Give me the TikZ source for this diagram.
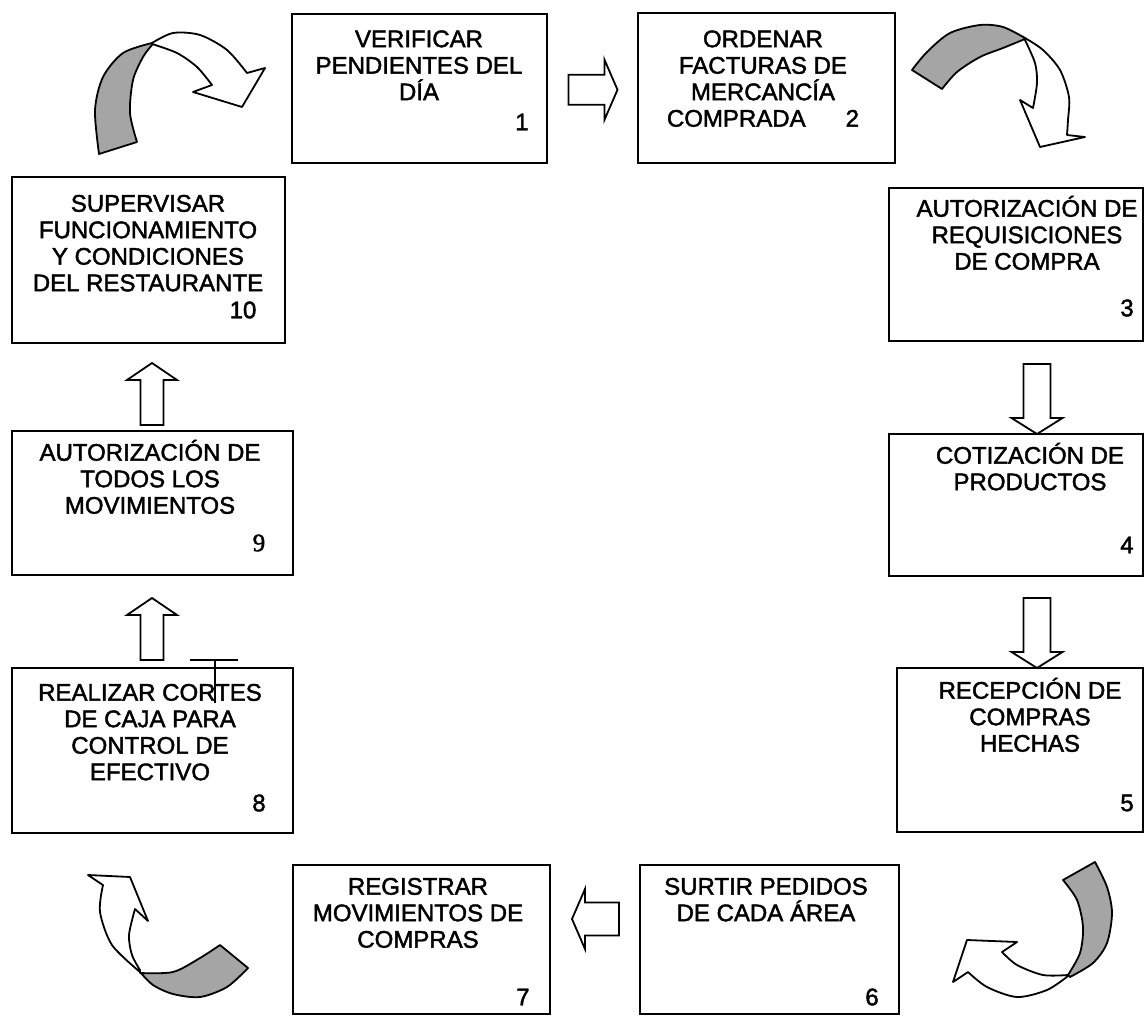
\documentclass[tikz,border=0pt]{standalone}
\usepackage{fontspec}
\setmainfont{Liberation Sans}
\newfontfamily\boxfont{Liberation Sans}[FakeBold=1.8]
\newfontfamily\serifnum{Liberation Serif}[FakeBold=1.8]
\usetikzlibrary{calc}
\definecolor{shadegray}{RGB}{165,165,165}
\newcommand{\sr}{\rule{0pt}{24pt}}
\tikzset{
  box/.style={draw, line width=1.6pt, inner sep=0pt, outer sep=0pt},
  txt/.style={anchor=north, inner sep=0pt, align=center, font=\boxfont\fontsize{24}{26.5}\selectfont, execute at begin node={\lineskiplimit=-100pt\relax}},
  num/.style={inner sep=0pt, font=\boxfont\fontsize{24}{26.5}\selectfont},
  blk/.style={draw, line width=1.8pt, fill=white, line join=miter},
  shd/.style={draw, line width=1.8pt, fill=shadegray, line join=round},
  bdy/.style={draw, line width=1.8pt, fill=white, line join=round},
  rarrow/.pic={\draw[blk] (-24.5,-15) -- (11.5,-15) -- (11.5,-30) -- (24.5,0) -- (11.5,30) -- (11.5,15) -- (-24.5,15) -- cycle;},
  darrow/.pic={\draw[blk] (0,0) -- (25.5,-16) -- (13.5,-16) -- (13.5,-70) -- (-13.5,-70) -- (-13.5,-16) -- (-25.5,-16) -- cycle;},
  uarrow/.pic={\draw[blk] (0,0) -- (25,17) -- (11.5,17) -- (11.5,62) -- (-11.5,62) -- (-11.5,17) -- (-25,17) -- cycle;},
  larrow/.pic={\draw[blk] (0,0) -- (13,-30) -- (13,-16.5) -- (47,-16.5) -- (47,16.5) -- (13,16.5) -- (13,30) -- cycle;}
}
\begin{document}
\begin{tikzpicture}[x=1pt,y=-1pt]
\useasboundingbox[fill=white] (0,0) rectangle (1146,1016);

% boxes
\node[box, minimum width=255pt, minimum height=149pt] (b1) at (419.5,88.5) {};
\node[box, minimum width=257pt, minimum height=150pt] (b2) at (766.5,88) {};
\node[box, minimum width=254pt, minimum height=153pt] (b3) at (1016,264.5) {};
\node[box, minimum width=254pt, minimum height=142pt] (b4) at (1016,505) {};
\node[box, minimum width=246pt, minimum height=164pt] (b5) at (1020,750) {};
\node[box, minimum width=259pt, minimum height=149pt] (b6) at (769.5,939.5) {};
\node[box, minimum width=257pt, minimum height=149pt] (b7) at (421.5,939.5) {};
\node[box, minimum width=281pt, minimum height=165pt] (b8) at (152.5,750.5) {};
\node[box, minimum width=281pt, minimum height=144pt] (b9) at (152.5,503) {};
\node[box, minimum width=273pt, minimum height=166pt] (b10) at (148.5,260) {};

% texts
\node[txt] (t1) at (419,23) {\sr VERIFICAR\\PENDIENTES DEL\\DÍA};
\node[num] (n1) at (522,122) {1};
\node[txt] (t2) at (763,23) {\sr ORDENAR\\FACTURAS DE\\MERCANCÍA\\COMPRADA\hspace{40pt}2};
\node[txt] (t3) at (1027,192.5) {\sr AUTORIZACIÓN DE\\REQUISICIONES\\DE COMPRA};
\node[num] (n3) at (1127,308) {3};
\node[txt] (t4) at (1030,439.5) {\sr COTIZACIÓN DE\\PRODUCTOS};
\node[num] (n4) at (1127,545) {4};
\node[txt] (t5) at (1030,674.5) {\sr RECEPCIÓN DE\\COMPRAS\\HECHAS};
\node[num] (n5) at (1127,803) {5};
\node[txt] (t6) at (766,870.5) {\sr SURTIR PEDIDOS\\DE CADA ÁREA};
\node[num] (n6) at (872,997) {6};
\node[txt] (t7) at (418,870.5) {\sr REGISTRAR\\MOVIMIENTOS DE\\COMPRAS};
\node[num] (n7) at (523,997) {7};
\node[txt] (t8) at (150,676.5) {\sr REALIZAR CORTES\\DE CAJA PARA\\CONTROL DE\\EFECTIVO};
\node[num] (n8) at (259,803) {8};
\node[txt] (t9) at (150,436.5) {\sr AUTORIZACIÓN DE\\TODOS LOS\\MOVIMIENTOS};
\node[num, font=\serifnum\fontsize{25}{26.5}\selectfont] (n9) at (259,543) {9};
\node[txt] (t10) at (148,187.5) {\sr SUPERVISAR\\FUNCIONAMIENTO\\Y CONDICIONES\\DEL RESTAURANTE};
\node[num] (n10) at (243,310) {10};

% block arrows
\pic at ($(b1.east)!0.5!(b2.west)+(0.5,1.5)$) {rarrow};
\pic at ($(b4.north)+(21,0)$) {darrow};
\pic at ($(b5.north)+(17,0)$) {darrow};
\pic at ($(b7.east)+(22,-20.5)$) {larrow};
\pic at ($(b9.south)+(-0.5,23)$) {uarrow};
\pic at ($(b10.south)+(3.5,20)$) {uarrow};

% stray mark near box 8
\draw[line width=1.2pt] (190,660) -- (238,660) (215,660) -- (215,703);

% curved arrow top-left (10 -> 1)
\path[bdy] plot[smooth] coordinates {(152,43) (173,33) (200,35) (227,50) (247,73)}
  -- (265,68) -- (242,107) -- (193,92) -- (212,85)
  -- plot[smooth] coordinates {(212,85) (197,67) (177,53) (152,44)} -- cycle;
\path[shd] plot[smooth] coordinates {(99,154) (95,110) (103,77) (123,53) (152,43)}
  -- plot[smooth] coordinates {(152,45) (143,57) (133,80) (130,113) (137,142)} -- cycle;

% curved arrow top-right (2 -> 3)
\path[bdy] plot[smooth] coordinates {(1025,38) (1043,50) (1060,70) (1069,97) (1068,120) (1067,135)}
  -- (1085,137) -- (1040,147) -- (1020,100) -- (1033,108)
  -- plot[smooth] coordinates {(1033,108) (1037,83) (1035,63) (1025,40)} -- cycle;
\path[shd] plot[smooth] coordinates {(912,70) (927,52) (950,33) (980,25) (1003,27) (1025,38)}
  -- plot[smooth] coordinates {(1025,39) (1003,48) (980,57) (957,72) (942,89)} -- cycle;

% curved arrow bottom-right (5 -> 6)
\path[bdy] plot[smooth] coordinates {(1068,976) (1047,990) (1017,997) (987,987) (968,972)}
  -- (953,982) -- (967,940) -- (1017,942) -- (1002,952)
  -- plot[smooth] coordinates {(1002,952) (1017,965) (1043,975) (1068,975)} -- cycle;
\path[shd] plot[smooth] coordinates {(1063,880) (1077,900) (1083,927) (1080,953) (1068,975)}
  -- plot[smooth] coordinates {(1070,977) (1093,963) (1107,943) (1112,913) (1107,887) (1095,862)} -- cycle;

% curved arrow bottom-left (7 -> 8)
\path[bdy] plot[smooth] coordinates {(140,972) (112,945) (100,912) (103,885)}
  -- (88,875) -- (130,877) -- (148,921) -- (135,909)
  -- plot[smooth] coordinates {(135,909) (129,935) (132,955) (140,970)} -- cycle;
\path[shd] plot[smooth] coordinates {(140,973) (173,972) (200,958) (220,945)}
  -- (248,968)
  -- plot[smooth] coordinates {(248,968) (227,987) (200,997) (173,994) (153,985) (140,972)} -- cycle;
\end{tikzpicture}
\end{document}
